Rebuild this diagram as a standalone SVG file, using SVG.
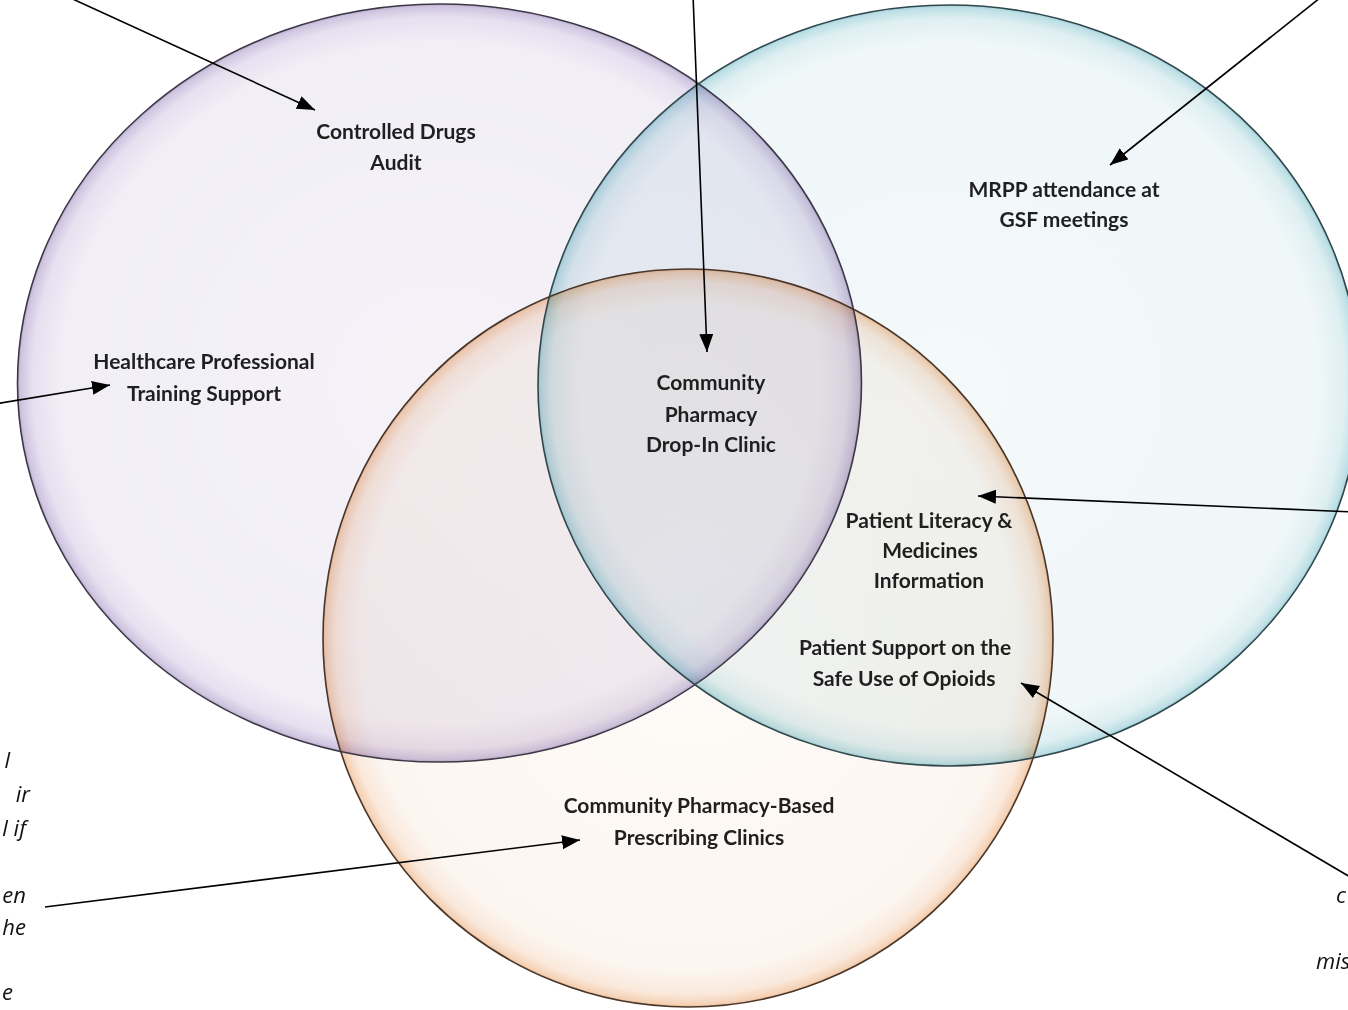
<svg xmlns="http://www.w3.org/2000/svg" width="1348" height="1010" viewBox="0 0 1348 1010">
<style>
.lbl{font-family:Lato,"Open Sans","Liberation Sans",sans-serif;font-weight:bold;font-size:21px;fill:#1f1f1f;text-anchor:middle}
.frag{font-family:"Open Sans","Liberation Sans",sans-serif;font-style:italic;font-size:22px;fill:#111}
.conn{stroke:#000;stroke-width:1.6;fill:none;marker-end:url(#ah)}
.ring{mix-blend-mode:multiply}
</style>
<defs>
<marker id="ah" markerUnits="userSpaceOnUse" markerWidth="20" markerHeight="16" refX="18" refY="7" orient="auto">
<path d="M0,0 L18,7 L0,14 Z" fill="#000"/>
</marker>
<radialGradient id="gP" cx="0.5" cy="0.5" r="0.5">
<stop offset="0" stop-color="#f5f3f8"/>
<stop offset="0.9" stop-color="#f1eef6"/>
<stop offset="0.965" stop-color="#e6e0f0"/>
<stop offset="0.993" stop-color="#cfc5e0"/>
<stop offset="1" stop-color="#b8abcc"/>
</radialGradient>
<radialGradient id="gB" cx="0.5" cy="0.5" r="0.5">
<stop offset="0" stop-color="#f4f9fa"/>
<stop offset="0.9" stop-color="#f0f7f8"/>
<stop offset="0.965" stop-color="#deeff2"/>
<stop offset="0.993" stop-color="#bcdfe5"/>
<stop offset="1" stop-color="#a2ced6"/>
</radialGradient>
<radialGradient id="gO" cx="0.5" cy="0.5" r="0.5">
<stop offset="0" stop-color="#fefbf8"/>
<stop offset="0.9" stop-color="#fcf6f1"/>
<stop offset="0.965" stop-color="#fae9dc"/>
<stop offset="0.993" stop-color="#f5d2b6"/>
<stop offset="1" stop-color="#ebbd98"/>
</radialGradient>
</defs>
<rect width="1348" height="1010" fill="#fff"/>
<g id="circles">
<ellipse id="circle-purple" class="ring" cx="439.5" cy="383" rx="422" ry="379" fill="url(#gP)"/>
<ellipse id="circle-blue" class="ring" cx="949" cy="385.5" rx="411" ry="380.5" fill="url(#gB)"/>
<ellipse id="circle-orange" class="ring" cx="688" cy="638" rx="365" ry="369" fill="url(#gO)"/>
<ellipse cx="439.5" cy="383" rx="422" ry="379" fill="none" stroke="#3d3845" stroke-width="1.6"/>
<ellipse cx="949" cy="385.5" rx="411" ry="380.5" fill="none" stroke="#2f474d" stroke-width="1.6"/>
<ellipse cx="688" cy="638" rx="365" ry="369" fill="none" stroke="#4a3628" stroke-width="1.6"/>
</g>
<g id="connectors">
<line class="conn" x1="53" y1="-10" x2="315" y2="110"/>
<line class="conn" x1="693" y1="-5" x2="707" y2="352"/>
<line class="conn" x1="1330" y1="-10" x2="1110" y2="165"/>
<line class="conn" x1="-5" y1="404" x2="110" y2="385"/>
<line class="conn" x1="1355" y1="512" x2="978" y2="496"/>
<line class="conn" x1="1362" y1="884" x2="1021" y2="683"/>
<line class="conn" x1="45" y1="907" x2="580" y2="840"/>
</g>
<g id="node-controlled-drugs">
<text class="lbl" x="396" y="139">Controlled Drugs</text>
<text class="lbl" x="396" y="170">Audit</text>
</g>
<g id="node-mrpp">
<text class="lbl" x="1064" y="197">MRPP attendance at</text>
<text class="lbl" x="1064" y="227">GSF meetings</text>
</g>
<g id="node-healthcare">
<text class="lbl" x="204" y="369">Healthcare Professional</text>
<text class="lbl" x="204" y="401">Training Support</text>
</g>
<g id="node-drop-in">
<text class="lbl" x="711" y="390">Community</text>
<text class="lbl" x="711" y="422">Pharmacy</text>
<text class="lbl" x="711" y="452">Drop-In Clinic</text>
</g>
<g id="node-literacy">
<text class="lbl" x="929" y="528">Patient Literacy &amp;</text>
<text class="lbl" x="930" y="558">Medicines</text>
<text class="lbl" x="929" y="588">Information</text>
</g>
<g id="node-opioids">
<text class="lbl" x="905" y="655">Patient Support on the</text>
<text class="lbl" x="904" y="686">Safe Use of Opioids</text>
</g>
<g id="node-prescribing">
<text class="lbl" x="699" y="813">Community Pharmacy-Based</text>
<text class="lbl" x="699" y="845">Prescribing Clinics</text>
</g>
<g id="fragments-left" class="frag" text-anchor="end">
<text x="10" y="768">l</text>
<text x="30" y="802">ir</text>
<text x="26" y="836">l if</text>
<text x="26" y="903">en</text>
<text x="26" y="935">he</text>
<text x="13" y="1000">e</text>
</g>
<g id="fragments-right" class="frag">
<text x="1336" y="903">c</text>
<text x="1316" y="969">mis</text>
</g>
</svg>
